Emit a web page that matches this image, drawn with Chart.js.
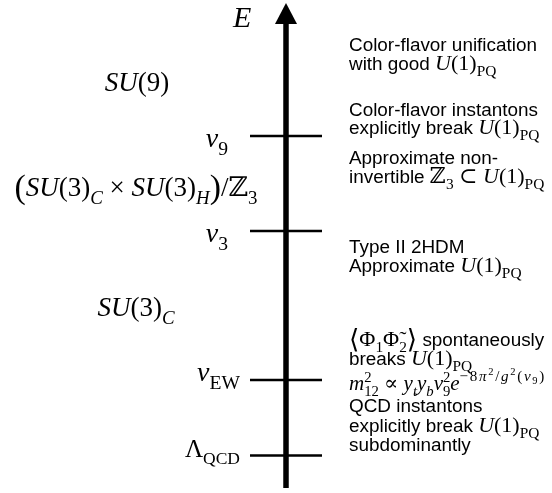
<!DOCTYPE html>
<html>
<head>
<meta charset="utf-8">
<script src="https://cdn.jsdelivr.net/npm/chart.js@4"></script>
<style>
  html, body { margin: 0; padding: 0; background: #fff; }
  #wrap { width: 552px; height: 493px; }
</style>
</head>
<body>
<div id="wrap"><canvas id="scaleChart" width="552" height="493"></canvas></div>
<script>
// Energy scale diagram
// y values are in diagram units, 0 = bottom of the picture

// energy axis
const axisX = 286;
const axisRange = [5, 490];

// symmetry breaking scales
const levelNames = ['v9', 'v3', 'vEW', 'ΛQCD'];
const levelEnergy = [357, 262, 113, 37.5];
const tickSpan = [250, 322];

// left hand labels (gauge groups and scale names)
const leftText = [
    [['I', 'E']],
    [['I', 'SU'], ['R', '(9)']],
    [['I', 'v'], ['b', '9']],
    [['L', '('], ['I', 'SU'], ['R', '(3)'], ['bi', 'C'], ['R', ' × '], ['I', 'SU'], ['R', '(3)'], ['bi', 'H'], ['L', ')'], ['R', '/ℤ'], ['b', '3']],
    [['I', 'v'], ['b', '3']],
    [['I', 'SU'], ['R', '(3)'], ['bi', 'C']],
    [['I', 'v'], ['b', 'EW']],
    [['R', 'Λ'], ['b', 'QCD']]
];
const leftX = [233, 137, 228, 136, 228, 136, 240, 240];
const leftY = [466, 402, 346, 297, 251, 177, 112, 36];
const leftAlign = ['left', 'center', 'right', 'center', 'right', 'center', 'right', 'right'];
const leftSize = [30, 27, 28, 27, 28, 27, 28, 25];

// right hand notes
const rightText = [
    [['S', 'Color-flavor unification']],
    [['S', 'with good '], ['I', 'U'], ['R', '(1)'], ['b', 'PQ']],
    [['S', 'Color-flavor instantons']],
    [['S', 'explicitly break '], ['I', 'U'], ['R', '(1)'], ['b', 'PQ']],
    [['S', 'Approximate non-']],
    [['S', 'invertible '], ['R', 'ℤ'], ['b', '3'], ['R', ' ⊂ '], ['I', 'U'], ['R', '(1)'], ['b', 'PQ']],
    [['S', 'Type II 2HDM']],
    [['S', 'Approximate '], ['I', 'U'], ['R', '(1)'], ['b', 'PQ']],
    [['A', '⟨'], ['R', 'Φ'], ['b', '1'], ['R', 'Φ\u0303'], ['b', '2'], ['A', '⟩'], ['S', ' spontaneously']],
    [['S', 'breaks '], ['I', 'U'], ['R', '(1)'], ['b', 'PQ']],
    [['I', 'm'], ['q', '2'], ['b', '12'], ['R', ' ∝ '], ['I', 'y'], ['bi', 't'], ['I', 'y'], ['bi', 'b'], ['I', 'v'], ['q', '2'], ['b', '9'], ['I', 'e'],
     ['er', '−8'], ['e', 'π'], ['ee', '2'], ['er', '/'], ['e', 'g'], ['ee', '2'], ['er', '('], ['e', 'v'], ['eb', '9'], ['er', ')']],
    [['S', 'QCD instantons']],
    [['S', 'explicitly break '], ['I', 'U'], ['R', '(1)'], ['b', 'PQ']],
    [['S', 'subdominantly']]
];
const rightX = 349;
const rightY = [442, 423, 377, 359, 329, 310, 240, 221, 147, 128, 103, 81, 61, 42];
const rightSize = [22, 22, 22, 22, 22, 22, 22, 22, 22, 22, 21, 22, 22, 22];

const SANS = '"Liberation Sans", Arial, Helvetica, sans-serif';
const SERIF = '"Liberation Serif", "Times New Roman", "DejaVu Serif", serif';

// text styles: size factor, baseline shift (em), family, italic, stacked, letter spacing (em)
const kinds = {
    S:  { k: 0.86, dy: 0, fam: SANS, it: false },
    I:  { k: 1, dy: 0, fam: SERIF, it: true },
    R:  { k: 1, dy: 0, fam: SERIF, it: false },
    L:  { k: 1.25, dy: 0.08, fam: SERIF, it: false },
    A:  { k: 1.2, dy: 0.08, fam: SERIF, it: false },
    b:  { k: 0.7, dy: 0.28, fam: SERIF, it: false },
    bi: { k: 0.7, dy: 0.28, fam: SERIF, it: true },
    q:  { k: 0.7, dy: -0.38, fam: SERIF, it: false, stack: true },
    e:  { k: 0.72, dy: -0.42, fam: SERIF, it: true, ls: 0.08 },
    er: { k: 0.72, dy: -0.42, fam: SERIF, it: false, ls: 0.08 },
    ee: { k: 0.5, dy: -0.72, fam: SERIF, it: false, ls: 0.08 },
    eb: { k: 0.5, dy: -0.27, fam: SERIF, it: false, ls: 0.08 }
};

function segFont(kind, size) {
    const s = kinds[kind];
    return (s.it ? 'italic ' : '') + (size * s.k).toFixed(1) + 'px ' + s.fam;
}

// width of one segment, with extra letter spacing for script sizes
function segWidth(ctx, kind, t, size) {
    ctx.font = segFont(kind, size);
    const ls = (kinds[kind].ls || 0) * size;
    return ctx.measureText(t).width + ls * [...t].length;
}

// measure and draw a line of mixed text
function drawRich(ctx, segs, x, y, size, align) {
    const widths = segs.map(([kind, t]) => segWidth(ctx, kind, t, size));
    let total = 0;
    let pending = 0;
    segs.forEach(([kind], i) => {
        if (kinds[kind].stack) { pending = widths[i]; return; }
        total += Math.max(widths[i], pending);
        pending = 0;
    });
    let cx = x;
    if (align === 'center') cx = x - total / 2;
    if (align === 'right') cx = x - total;
    pending = 0;
    segs.forEach(([kind, t], i) => {
        const s = kinds[kind];
        ctx.font = segFont(kind, size);
        const by = y + s.dy * size;
        if (s.ls) {
            let px = cx;
            [...t].forEach(ch => {
                ctx.fillText(ch, px, by);
                px += ctx.measureText(ch).width + s.ls * size;
            });
        } else {
            ctx.fillText(t, cx, by);
        }
        if (s.stack) { pending = widths[i]; return; }
        cx += Math.max(widths[i], pending);
        pending = 0;
    });
}

const labelPlugin = {
    id: 'labels',
    afterDatasetsDraw(chart) {
        const ctx = chart.ctx;
        const xs = chart.scales.x;
        const ys = chart.scales.y;
        ctx.save();
        ctx.fillStyle = '#000';

        // arrow head at the top of the energy axis
        const tipX = xs.getPixelForValue(axisX);
        const tipY = ys.getPixelForValue(axisRange[1]);
        ctx.beginPath();
        ctx.moveTo(tipX, tipY);
        ctx.lineTo(tipX + 11, tipY + 21);
        ctx.lineTo(tipX - 11, tipY + 21);
        ctx.closePath();
        ctx.fill();

        ctx.textBaseline = 'alphabetic';
        ctx.textAlign = 'left';
        leftText.forEach((segs, i) => {
            drawRich(ctx, segs, xs.getPixelForValue(leftX[i]), ys.getPixelForValue(leftY[i]), leftSize[i], leftAlign[i]);
        });
        rightText.forEach((segs, i) => {
            drawRich(ctx, segs, xs.getPixelForValue(rightX), ys.getPixelForValue(rightY[i]), rightSize[i], 'left');
        });
        ctx.restore();
    }
};

const datasets = [{
    label: 'E',
    data: [{ x: axisX, y: axisRange[0] }, { x: axisX, y: axisRange[1] - 18 }],
    showLine: true,
    borderColor: '#000',
    borderWidth: 5.5,
    pointRadius: 0,
    clip: false
}];
levelEnergy.forEach((e, i) => {
    datasets.push({
        label: levelNames[i],
        data: [{ x: tickSpan[0], y: e }, { x: tickSpan[1], y: e }],
        showLine: true,
        borderColor: '#000',
        borderWidth: 2.6,
        pointRadius: 0,
        clip: false
    });
});

new Chart(document.getElementById('scaleChart'), {
    type: 'scatter',
    data: { datasets: datasets },
    options: {
        responsive: false,
        animation: false,
        devicePixelRatio: 1,
        layout: { padding: 0 },
        plugins: {
            legend: { display: false },
            tooltip: { enabled: false }
        },
        scales: {
            x: { type: 'linear', min: 0, max: 552, display: false },
            y: { type: 'linear', min: 0, max: 493, display: false }
        }
    },
    plugins: [labelPlugin]
});
</script>
</body>
</html>
